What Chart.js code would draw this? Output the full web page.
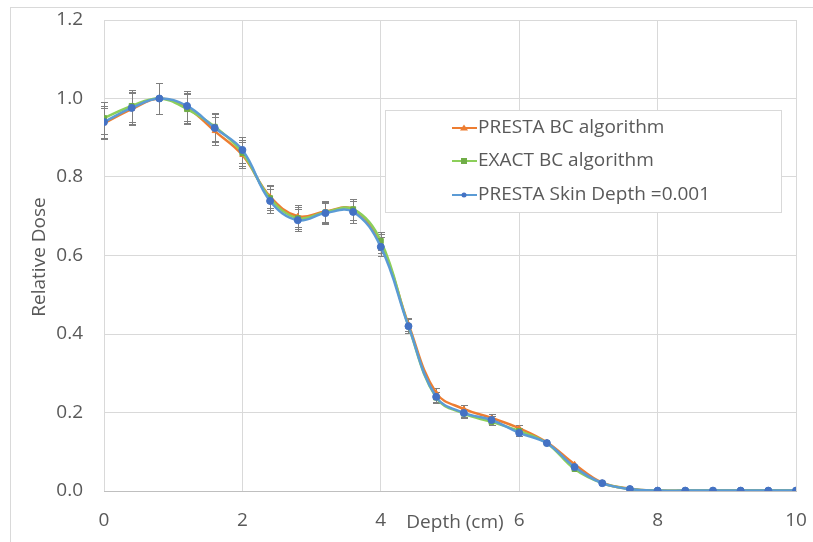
<!DOCTYPE html>
<html>
<head>
<meta charset="utf-8">
<script src="https://cdn.jsdelivr.net/npm/chart.js@4.4.0/dist/chart.umd.min.js"></script>
<style>
  body { margin: 0; background: #fff; }
  #wrap { position: relative; width: 813px; height: 542px; }
  #frame { position: absolute; left: 10px; top: 7px; width: 820px; height: 560px; border: 1px solid #d9d9d9; box-sizing: border-box; }
  canvas { position: absolute; left: 0; top: 0; }
</style>
</head>
<body>
<div id="wrap">
  <div id="frame"></div>
  <canvas id="doseChart" width="813" height="542"></canvas>
</div>
<script>
// depth (cm)
const depth = [0, 0.4, 0.8, 1.2, 1.6, 2.0, 2.4, 2.8, 3.2, 3.6, 4.0, 4.4, 4.8, 5.2, 5.6, 6.0, 6.4, 6.8, 7.2, 7.6, 8.0, 8.4, 8.8, 9.2, 9.6, 10];

const prestaBC = [0.937, 0.973, 1.0, 0.976, 0.917, 0.856, 0.750, 0.700, 0.712, 0.718, 0.630, 0.425, 0.250, 0.209, 0.186, 0.160, 0.124, 0.068, 0.021, 0.006, 0.001, 0.001, 0.001, 0.001, 0.001, 0.001];
const exactBC = [0.950, 0.981, 1.0, 0.973, 0.928, 0.861, 0.746, 0.695, 0.710, 0.718, 0.637, 0.420, 0.238, 0.197, 0.176, 0.153, 0.122, 0.056, 0.020, 0.005, 0.001, 0.001, 0.001, 0.001, 0.001, 0.001];
const prestaSkin = [0.940, 0.976, 1.0, 0.981, 0.925, 0.869, 0.739, 0.690, 0.708, 0.711, 0.622, 0.420, 0.240, 0.199, 0.181, 0.148, 0.122, 0.061, 0.020, 0.005, 0.001, 0.001, 0.001, 0.001, 0.001, 0.001];

// error bar half width (same for every series)
const doseErr = [0.040, 0.040, 0.040, 0.038, 0.036, 0.034, 0.030, 0.028, 0.027, 0.027, 0.024, 0.017, 0.013, 0.011, 0.009, 0.008, 0, 0, 0, 0, 0, 0, 0, 0, 0, 0];

const xTicks = [0, 2, 4, 6, 8, 10];
const yTicks = [0.0, 0.2, 0.4, 0.6, 0.8, 1.0, 1.2];

const textColor = "#595959";
const font = "Open Sans";

function pts(vals) {
  return depth.map((d, i) => ({ x: d, y: vals[i] }));
}

// error bars drawn through the scales
const errorBars = {
  id: "errorBars",
  beforeDatasetsDraw(chart) {
    const { ctx, scales } = chart;
    ctx.save();
    ctx.strokeStyle = "#7f7f7f";
    ctx.lineWidth = 1;
    chart.data.datasets.forEach((ds) => {
      ds.data.forEach((p, i) => {
        const e = doseErr[i];
        if (!e) return;
        const x = Math.round(scales.x.getPixelForValue(p.x)) + 0.5;
        const y1 = Math.round(scales.y.getPixelForValue(p.y + e)) + 0.5;
        const y2 = Math.round(scales.y.getPixelForValue(p.y - e)) + 0.5;
        ctx.beginPath();
        ctx.moveTo(x, y1); ctx.lineTo(x, y2);
        ctx.moveTo(x - 3.5, y1); ctx.lineTo(x + 3.5, y1);
        ctx.moveTo(x - 3.5, y2); ctx.lineTo(x + 3.5, y2);
        ctx.stroke();
      });
    });
    ctx.restore();
  },
};

// legend box inside plot + axis titles
const extras = {
  id: "extras",
  afterDraw(chart) {
    const ctx = chart.ctx;
    ctx.save();
    // legend
    ctx.fillStyle = "#fff";
    ctx.fillRect(385, 110, 396, 102);
    ctx.strokeStyle = "#d9d9d9";
    ctx.lineWidth = 1;
    ctx.strokeRect(385.5, 110.5, 396, 102);
    const rows = [128, 161, 195];
    chart.data.datasets.forEach((ds, i) => {
      const y = rows[i];
      ctx.strokeStyle = ds.borderColor;
      ctx.lineWidth = 2;
      ctx.beginPath();
      ctx.moveTo(452, y); ctx.lineTo(477, y);
      ctx.stroke();
      ctx.fillStyle = ds.pointBackgroundColor;
      if (ds.pointStyle === "triangle") {
        ctx.beginPath();
        ctx.moveTo(464, y - 3.5); ctx.lineTo(468, y + 2.5); ctx.lineTo(460, y + 2.5);
        ctx.closePath(); ctx.fill();
      } else if (ds.pointStyle === "rect") {
        ctx.fillRect(461, y - 3, 6, 6);
      } else {
        ctx.beginPath(); ctx.arc(464, y, 2.5, 0, Math.PI * 2); ctx.fill();
      }
      ctx.fillStyle = textColor;
      ctx.font = "19px '" + font + "'";
      ctx.textBaseline = "middle";
      ctx.textAlign = "left";
      ctx.fillText(ds.label, 478, y);
    });
    // axis titles
    ctx.fillStyle = textColor;
    ctx.font = "19px '" + font + "'";
    ctx.textAlign = "center";
    ctx.textBaseline = "middle";
    ctx.fillText("Depth (cm)", 455, 523);
    ctx.translate(40, 257);
    ctx.rotate(-Math.PI / 2);
    ctx.fillText("Relative Dose", 0, 0);
    ctx.restore();
  },
};

const ctx = document.getElementById("doseChart").getContext("2d");
const doseChart = new Chart(ctx, {
  type: "scatter",
  data: {
    datasets: [
      {
        label: "PRESTA BC algorithm",
        data: pts(prestaBC),
        borderColor: "#ED7D31",
        pointBackgroundColor: "#ED7D31",
        pointBorderColor: "#ED7D31",
        pointStyle: "triangle",
        pointRadius: 3,
        order: 2,
      },
      {
        label: "EXACT BC algorithm",
        data: pts(exactBC),
        borderColor: "#8ccf5a",
        pointBackgroundColor: "#70AD47",
        pointBorderColor: "#70AD47",
        pointStyle: "rect",
        pointRadius: 3.5,
        order: 1,
      },
      {
        label: "PRESTA Skin Depth =0.001",
        data: pts(prestaSkin),
        borderColor: "#5B9BD5",
        pointBackgroundColor: "#4472C4",
        pointBorderColor: "#4472C4",
        pointStyle: "circle",
        pointRadius: 3.5,
        order: 0,
      },
    ].map((d) => Object.assign(d, { showLine: true, borderWidth: 2.5, tension: 0.4, pointBorderWidth: 1 })),
  },
  options: {
    responsive: false,
    animation: false,
    layout: { padding: { top: 20, right: 17, bottom: 0, left: 0 } },
    scales: {
      x: {
        type: "linear",
        min: 0,
        max: 10,
        afterBuildTicks: (s) => { s.ticks = xTicks.map((v) => ({ value: v })); },
        afterFit: (s) => { s.height = 51; s.paddingLeft = 0; s.paddingRight = 0; },
        ticks: { color: textColor, padding: 18, font: { family: font, size: 19 } },
        grid: { color: "#d9d9d9", drawTicks: false },
        border: { color: "#bfbfbf" },
      },
      y: {
        min: 0,
        max: 1.2,
        afterBuildTicks: (s) => { s.ticks = yTicks.map((v) => ({ value: v })); },
        afterFit: (s) => { s.width = 104; s.paddingTop = 0; s.paddingBottom = 0; },
        ticks: { color: textColor, padding: 21, font: { family: font, size: 19 }, callback: (v) => v.toFixed(1) },
        grid: { color: "#d9d9d9", drawTicks: false },
        border: { display: false },
      },
    },
    plugins: {
      legend: { display: false },
      tooltip: { enabled: false },
    },
  },
  plugins: [errorBars, extras],
});
</script>
</body>
</html>
